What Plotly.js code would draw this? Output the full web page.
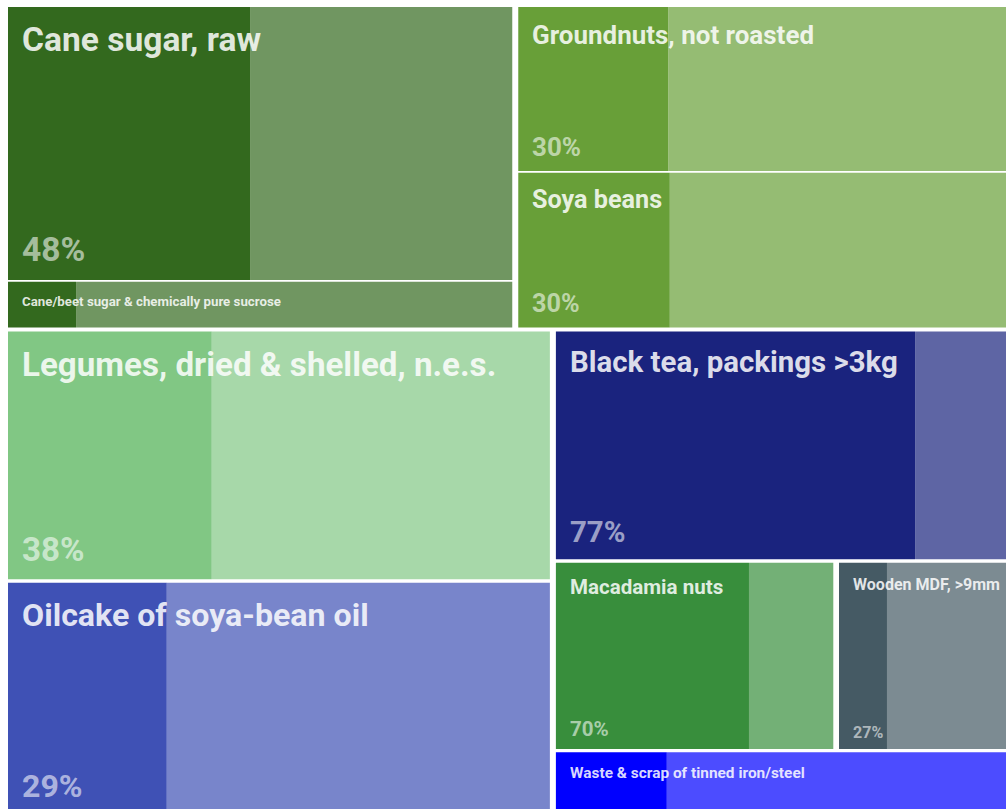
<!DOCTYPE html>
<html><head><meta charset="utf-8">
<script src="https://cdn.plot.ly/plotly-3.0.1.min.js"></script>
<style>
html,body{margin:0;padding:0;overflow:hidden;background:#fff;width:1006px;height:809px}
#chart{position:absolute;left:8px;top:7px;width:1012px;height:808px}
</style>
</head><body><div id="chart"></div>
<script>
// ---- data ----
const labels = ["Cane sugar, raw", "Cane/beet sugar & chemically pure sucrose", "Groundnuts, not roasted", "Soya beans",
  "Legumes, dried & shelled, n.e.s.", "Oilcake of soya-bean oil", "Black tea, packings >3kg", "Macadamia nuts",
  "Wooden MDF, >9mm", "Waste & scrap of tinned iron/steel"];
const values = [171.1, 28.7, 102.3, 96.5, 167.2, 156.8, 132.6, 65.6, 42.8, 36.5];
const shares = [48.0, 13.5, 29.9, 30.2, 37.6, 29.3, 77.4, 69.6, 26.5, 23.9];
const groups = ["Sugars", "Sugars", "Oilseeds", "Oilseeds", "Vegetables", "Feed", "Tea", "Nuts", "Wood", "Metals"];

// ---- style ----
const colors = ["#33691e", "#33691e", "#689f38", "#689f38", "#81c784", "#3f51b5", "#1a237e", "#388e3c", "#455a64", "#0000ff"];
const W = 1012, H = 808;
// nesting of the tiles (indices into the arrays above)
const tree = {dir: 'v', gap: 4, kids: [
  {dir: 'h', gap: 6, kids: [{dir: 'v', gap: 1.7, kids: [0, 1]}, {dir: 'v', gap: 1.7, kids: [2, 3]}]},
  {dir: 'h', gap: 6, kids: [{dir: 'v', gap: 3.4, kids: [4, 5]},
                            {dir: 'v', gap: 3.4, kids: [6, {dir: 'h', gap: 5.7, kids: [7, 8]}, 9]}]}
]};

function total(n) { return typeof n === 'number' ? values[n] : n.kids.reduce((s, k) => s + total(k), 0); }
const rects = [];
function place(n, x0, y0, x1, y1) {
  if (typeof n === 'number') { rects[n] = {x0, y0, x1, y1}; return; }
  const sum = total(n);
  const len = (n.dir === 'h' ? x1 - x0 : y1 - y0) - n.gap * (n.kids.length - 1);
  let p = n.dir === 'h' ? x0 : y0;
  n.kids.forEach(k => {
    const l = len * total(k) / sum;
    if (n.dir === 'h') place(k, p, y0, p + l, y1); else place(k, x0, p, x1, p + l);
    p += l + n.gap;
  });
}
place(tree, 0, 0, W, H);

const ctx = document.createElement('canvas').getContext('2d');
function textW(t, fs) { ctx.font = '700 ' + fs + 'px Roboto'; return ctx.measureText(t).width; }

const sx = [], sw = [], sb = [], sh = [], rx = [], rw = [];
const annotations = [];
labels.forEach((lab, i) => {
  const r = rects[i], w = r.x1 - r.x0, h = r.y1 - r.y0;
  const s = w * shares[i] / 100;
  sx.push(r.x0 + s / 2); sw.push(s); sb.push(r.y0); sh.push(h);
  rx.push(r.x0 + s + (w - s) / 2); rw.push(w - s);
  let fs = Math.min(0.0905 * Math.sqrt(w * h), 0.29 * h, 35);
  const tw = textW(lab, fs);
  if (tw > w - 34) fs = fs * (w - 34) / tw;
  fs = Math.max(10, fs);
  annotations.push({x: r.x0 + 12, y: r.y0 + 9 + 0.07 * fs, xref: 'x', yref: 'y', xanchor: 'left', yanchor: 'top',
    text: lab, showarrow: false, font: {family: 'Roboto', weight: 700, size: fs, color: 'rgba(255,255,255,0.85)'}});
  if (h >= 80) {
    annotations.push({x: r.x0 + 12, y: r.y1 - 0.2 * fs - 2, xref: 'x', yref: 'y', xanchor: 'left', yanchor: 'bottom',
      text: Math.round(shares[i]) + '%', showarrow: false,
      font: {family: 'Roboto', weight: 700, size: fs, color: 'rgba(255,255,255,0.58)'}});
  }
});

const data = [
  {type: 'bar', x: sx, width: sw, base: sb, y: sh, marker: {color: colors, line: {width: 0}},
   hoverinfo: 'skip', showlegend: false},
  {type: 'bar', x: rx, width: rw, base: sb, y: sh, marker: {color: colors, opacity: 0.7, line: {width: 0}},
   hoverinfo: 'skip', showlegend: false}
];
const layout = {
  width: W, height: H, margin: {l: 0, r: 0, t: 0, b: 0}, barmode: 'overlay',
  paper_bgcolor: '#fff', plot_bgcolor: '#fff',
  xaxis: {range: [0, W], visible: false, fixedrange: true},
  yaxis: {range: [H, 0], visible: false, fixedrange: true},
  annotations: annotations, showlegend: false
};
Plotly.newPlot('chart', data, layout, {displayModeBar: false, staticPlot: true});
</script>
</body></html>
